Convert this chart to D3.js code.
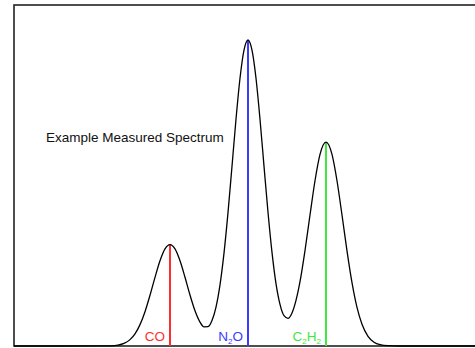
<!DOCTYPE html>
<html>
<head>
<meta charset="utf-8">
<script src="https://cdn.jsdelivr.net/npm/d3@7"></script>
<style>
  html, body { margin: 0; padding: 0; background: #fff; }
  svg { display: block; }
  text { font-family: "Liberation Sans", Arial, sans-serif; }
</style>
</head>
<body>
<div id="chart"></div>
<script>
// Spectral channel (arbitrary units) and measured intensity (normalised)
const channels = [0, 86, 96, 104, 110, 116, 121, 126, 131, 136,
  141, 146, 151, 156, 161, 166, 171, 176, 181, 186,
  190, 194, 198, 202, 206, 210, 214, 218, 222, 226,
  230, 234, 238, 242, 246, 250, 254, 258, 262, 266,
  270, 274, 278, 282, 286, 291, 296, 301, 306, 312,
  318, 323, 328, 333, 338, 343, 348, 354, 360, 366,
  374, 386, 461];
const intensity = [0, 0.0001, 0.0007, 0.0031, 0.0085, 0.0208, 0.0397, 0.0698, 0.1122, 0.1657,
  0.2244, 0.2784, 0.3171, 0.331, 0.3171, 0.2784, 0.2247, 0.1666, 0.1151, 0.0781,
  0.0625, 0.0630, 0.0831, 0.1272, 0.2000, 0.3037, 0.436, 0.5874, 0.741, 0.875,
  0.967, 1.0, 0.967, 0.875, 0.741, 0.588, 0.437, 0.306, 0.204, 0.136,
  0.099, 0.0905, 0.108, 0.149, 0.210, 0.312, 0.428, 0.540, 0.626, 0.666,
  0.626, 0.540, 0.428, 0.311, 0.207, 0.126, 0.071, 0.0315, 0.0124, 0.0043,
  0.0009, 0, 0];

// Species lines
const species = ["CO", "N2O", "C2H2"];
const speciesChannel = [156, 234, 312];
const speciesPeak = [0.331, 1.0, 0.666];
const speciesColor = ["#ff2f2f", "#3b3bff", "#3ee83e"];
// label parts: [text, isSubscript]
const speciesLabel = [
  [["CO", false]],
  [["N", false], ["2", true], ["O", false]],
  [["C", false], ["2", true], ["H", false], ["2", true]]
];
const title = "Example Measured Spectrum";

const W = 475, H = 348;
const frame = { left: 14, top: 5, right: 484, bottom: 346 };

const svg = d3.select("#chart").append("svg")
  .attr("width", W).attr("height", H);

const x = d3.scaleLinear().domain([0, 461]).range([14, 475]);
const y = d3.scaleLinear().domain([0, 1]).range([frame.bottom, 40]);

// frame
svg.append("rect")
  .attr("x", frame.left).attr("y", frame.top)
  .attr("width", frame.right - frame.left).attr("height", frame.bottom - frame.top)
  .attr("fill", "none").attr("stroke", "#222").attr("stroke-width", 1.6);

// species lines
svg.selectAll("line.species").data(species).join("line")
  .attr("class", "species")
  .attr("x1", (d, i) => x(speciesChannel[i])).attr("x2", (d, i) => x(speciesChannel[i]))
  .attr("y1", y(0)).attr("y2", (d, i) => y(speciesPeak[i]))
  .attr("stroke", (d, i) => speciesColor[i]).attr("stroke-width", 2);

// labels
species.forEach((s, i) => {
  const t = svg.append("text")
    .attr("x", x(speciesChannel[i]) - 5).attr("y", 341)
    .attr("text-anchor", "end")
    .attr("fill", speciesColor[i])
    .attr("font-size", 13.5);
  speciesLabel[i].forEach(([txt, sub]) => {
    const ts = t.append("tspan").text(txt);
    if (sub) ts.attr("font-size", 8).attr("dy", 3);
    else ts.attr("dy", 0);
  });
  // reset baseline after subscripts
  t.selectAll("tspan").each(function(d, k) {
    const parts = speciesLabel[i];
    if (!parts[k][1] && k > 0 && parts[k - 1][1]) d3.select(this).attr("dy", -3);
  });
});

// spectrum curve
const pts = channels.map((c, i) => [c, intensity[i]]);
const line = d3.line().x(d => x(d[0])).y(d => y(d[1])).curve(d3.curveMonotoneX);
svg.append("path").datum(pts)
  .attr("d", line).attr("fill", "none").attr("stroke", "#000").attr("stroke-width", 1.3);

// title
svg.append("text").attr("x", 46).attr("y", 142)
  .attr("font-size", 13.5).attr("fill", "#111").text(title);
</script>
</body>
</html>
